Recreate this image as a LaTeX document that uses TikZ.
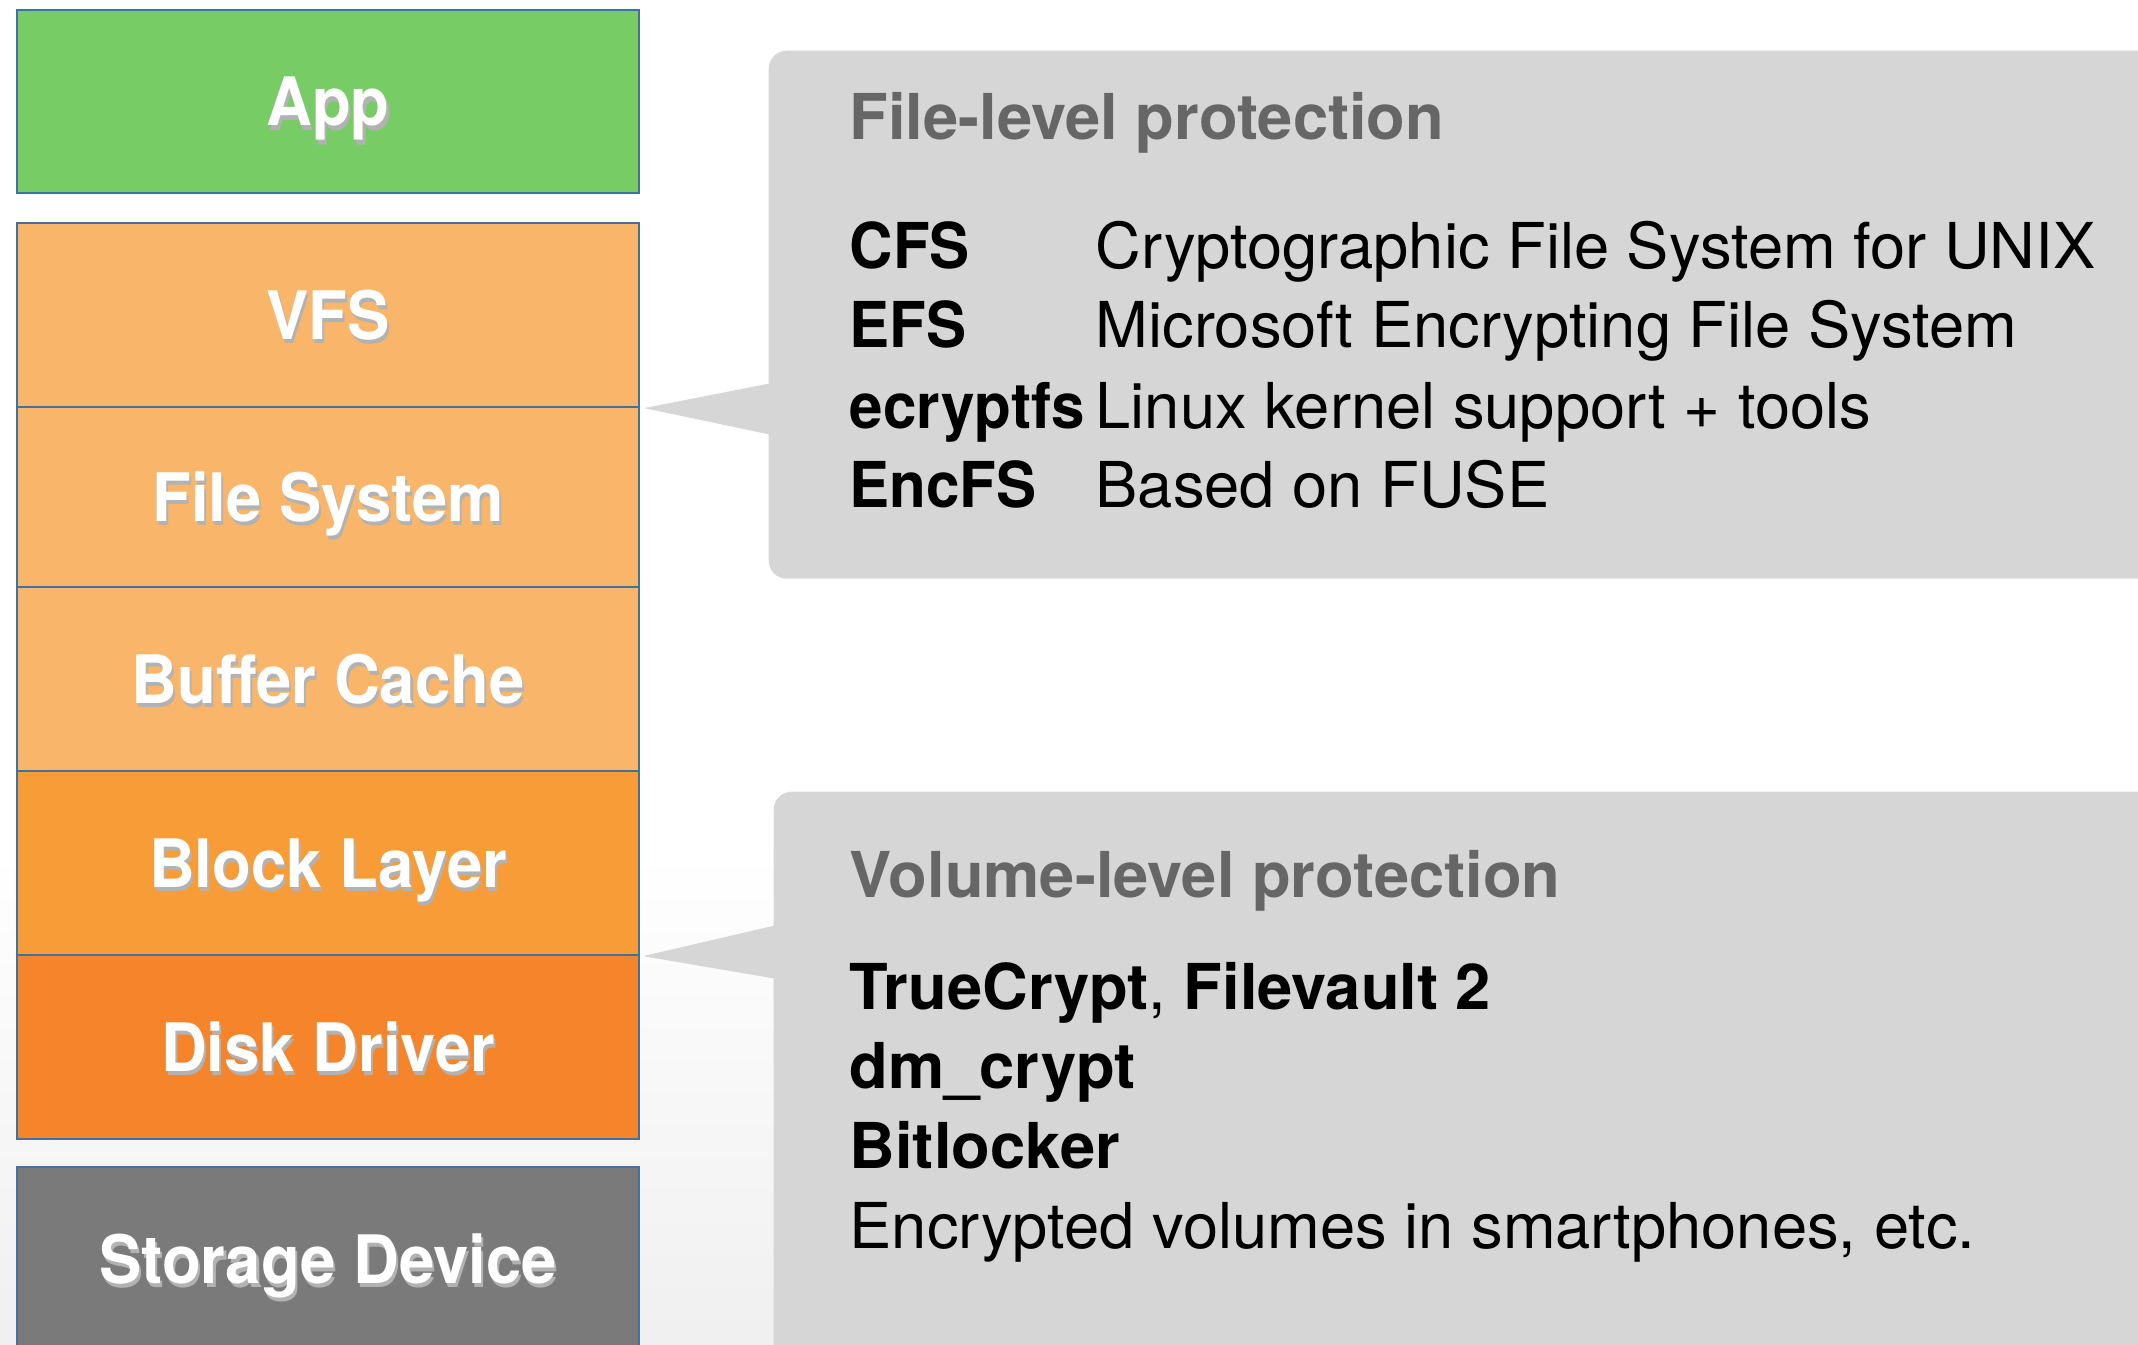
\documentclass[tikz,border=0pt]{standalone}
\usepackage{fontspec}
\setmainfont{TeX Gyre Heros}
\newfontfamily\narrowfont{TeX Gyre Heros}[FakeStretch=0.95]
\definecolor{appgreen}{HTML}{77CC65}
\definecolor{lightorange}{HTML}{F9B66B}
\definecolor{midorange}{HTML}{F89C37}
\definecolor{darkorange}{HTML}{F5842A}
\definecolor{storagegray}{HTML}{7A7A7A}
\definecolor{layerline}{HTML}{41719C}
\definecolor{callgray}{HTML}{D6D6D6}
\definecolor{headgray}{HTML}{666666}
\newcommand{\shtext}[1]{\rlap{\kern0.6pt\raisebox{-1.3pt}{\color{black!30}#1}}#1}
\newcommand{\tag}[1]{{\narrowfont\bfseries #1}}

\begin{document}
\begin{tikzpicture}[
	layer/.style={draw=layerline, line width=0.6pt, minimum width=6.22cm, minimum height=1.84cm, anchor=north west, inner sep=0pt, text height=13.7pt, text depth=0pt, text=white, font=\fontsize{19}{22}\narrowfont\bfseries},
	callbox/.style={fill=callgray, rounded corners=0.18cm, anchor=north west, inner sep=0pt},
	head/.style={anchor=base west, inner sep=0pt, text=headgray, font=\fontsize{18}{22}\selectfont\bfseries},
	item/.style={anchor=base west, inner sep=0pt, font=\fontsize{18}{22}\selectfont}
	]
	\clip (0,0) rectangle (21.38,-13.45);
	\shade[top color=white, bottom color=black!6] (0,-8.5) rectangle (21.38,-13.45);
	%\draw[help lines] (0,0) grid (21,-13);
	% layers
	\node[layer, fill=appgreen, minimum height=1.83cm] (app) at (0.16,-0.09) {\shtext{App}};
	\node[layer, fill=lightorange] (vfs) at (0.16,-2.22) {\shtext{VFS}};
	\node[layer, fill=lightorange, minimum height=1.80cm] (fs) at (0.16,-4.06) {\shtext{File System}};
	\node[layer, fill=lightorange] (bc) at (0.16,-5.86) {\shtext{Buffer Cache}};
	\node[layer, fill=midorange] (bl) at (0.16,-7.70) {\shtext{Block Layer}};
	\node[layer, fill=darkorange] (dd) at (0.16,-9.54) {\shtext{Disk Driver}};
	\node[layer, fill=storagegray] (sd) at (0.16,-11.66) {\shtext{Storage Device}};
	% callouts
	\node[callbox, minimum width=14cm, minimum height=5.28cm] (filecall) at (7.68,-0.50) {};
	\node[callbox, minimum width=14cm, minimum height=6cm] (volcall) at (7.73,-7.91) {};
	\coordinate (filetip) at ([xshift=0.04cm]vfs.south east);
	\coordinate (voltip) at ([xshift=0.03cm]bl.south east);
	\fill[callgray] (filetip) -- (7.72,-3.83) -- (7.72,-4.35) -- cycle;
	\fill[callgray] (voltip) -- (7.77,-9.25) -- (7.77,-9.79) -- cycle;
	% file-level
	\node[head] (filehead) at (8.49,-1.40) {File-level protection};
	\node[item] (cfs) at (8.49,-2.68) {\tag{CFS}};
	\node[item] (cfsdesc) at (10.95,-2.68) {Cryptographic File System for UNIX};
	\node[item] (efs) at (8.49,-3.47) {\tag{EFS}};
	\node[item] (efsdesc) at (10.95,-3.47) {Microsoft Encrypting File System};
	\node[item] (ecfs) at (8.49,-4.28) {\tag{ecryptfs}};
	\node[item] (ecfsdesc) at (10.95,-4.28) {Linux kernel support + tools};
	\node[item] (encfs) at (8.49,-5.07) {\tag{EncFS}};
	\node[item] (encfsdesc) at (10.95,-5.07) {Based on FUSE};
	% volume-level
	\node[head] (volhead) at (8.49,-8.97) {Volume-level protection};
	\node[item] (tc) at (8.49,-10.09) {\textbf{TrueCrypt}, \textbf{Filevault 2}};
	\node[item] (dm) at (8.49,-10.88) {\textbf{dm\_crypt}};
	\node[item] (bit) at (8.49,-11.68) {\textbf{Bitlocker}};
	\node[item] (phones) at (8.49,-12.48) {Encrypted volumes in smartphones, etc.};
\end{tikzpicture}
\end{document}
